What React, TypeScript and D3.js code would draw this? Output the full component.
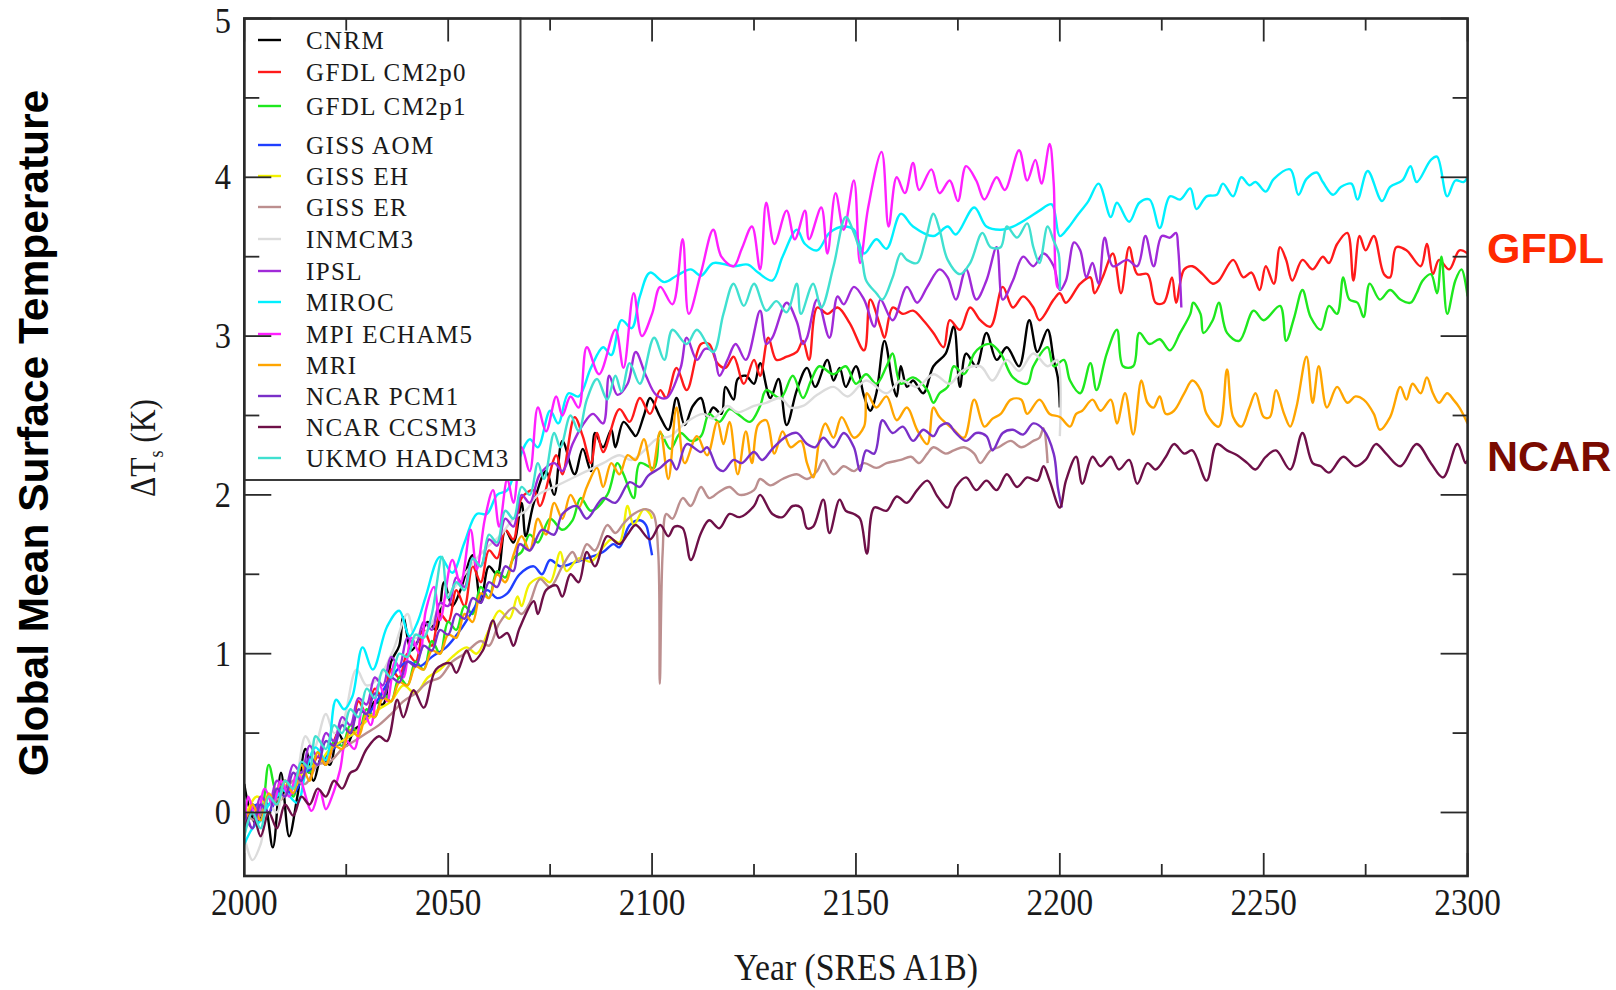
import React from "react";
import * as d3 from "d3";

type P = [number, number];

const CNRM: P[] = [[2000,0.18],[2001,0.05],[2003,-0.08],[2005,0.05],[2007,-0.22],[2009,0.25],[2011,-0.15],[2013,0.1],[2015,0.4],[2017,0.2],[2019,0.35],[2021,0.3],[2023,0.5],[2025,0.42],[2027,0.52],[2030,0.58],[2032,0.7],[2034,0.68],[2036,0.95],[2038,1.05],[2039,1.23],[2041,1.02],[2043,1.1],[2045,1.2],[2047,1.15],[2049,1.45],[2051,1.3],[2053,1.4],[2056,1.62],[2058,1.32],[2060,1.55],[2062,1.5],[2064,1.78],[2066,1.7],[2068,1.95],[2069,1.74],[2071,1.95],[2074,2.15],[2076,2.0],[2078,2.34],[2081,2.13],[2083,2.29],[2085,2.15],[2086,2.39],[2088,2.3],[2090,2.41],[2091,2.3],[2093,2.46],[2095,2.4],[2096,2.37],[2098,2.5],[2099.5,2.61],[2102,2.49],[2104,2.41],[2106,2.61],[2108,2.44],[2110,2.56],[2112,2.61],[2113.5,2.49],[2115,2.55],[2117,2.51],[2118,2.68],[2120,2.6],[2121,2.73],[2123,2.75],[2125,2.7],[2126.5,2.83],[2129,2.61],[2131,2.73],[2133,2.44],[2135.5,2.66],[2138,2.8],[2140,2.68],[2143,2.85],[2144.5,2.72],[2146,2.8],[2147.5,2.68],[2150,2.81],[2152,2.62],[2153.5,2.53],[2155,2.64],[2157,2.97],[2159,2.7],[2160,2.62],[2161,2.81],[2162.5,2.68],[2164,2.72],[2166.5,2.64],[2169,2.81],[2172,2.89],[2174,3.06],[2175.5,2.68],[2177,2.89],[2179.5,2.81],[2182,3.02],[2184.5,2.85],[2187,2.93],[2190,2.81],[2192.5,3.1],[2194.5,2.9],[2197,3.04],[2198.5,2.85],[2199.5,2.74],[2200,2.55]];

const GFDL_CM2P0: P[] = [[2000,-0.1],[2002,0.05],[2004,-0.05],[2006,0.1],[2008,0.05],[2010,0.2],[2012,0.15],[2014,0.3],[2016,0.25],[2018,0.35],[2020,0.3],[2022,0.45],[2024,0.55],[2026,0.5],[2028,0.7],[2030,0.62],[2032,0.78],[2034,0.72],[2036,0.9],[2038,0.85],[2040,1.0],[2042,0.95],[2044,1.15],[2046,1.05],[2048,1.25],[2050,1.2],[2052,1.4],[2054,1.3],[2056,1.55],[2058,1.45],[2060,1.65],[2062,1.6],[2064,1.78],[2066,1.72],[2068,1.98],[2071,2.03],[2072.5,1.93],[2076.5,2.25],[2078,2.13],[2081,2.49],[2083,2.37],[2085,2.2],[2086.5,2.39],[2088,2.27],[2092,2.54],[2094.5,2.46],[2097,2.61],[2099.5,2.51],[2102,2.66],[2103.5,2.61],[2106,2.8],[2108.5,2.66],[2112,2.95],[2114,2.95],[2116,2.83],[2118,2.8],[2120,2.87],[2122.5,2.7],[2125,2.85],[2126.5,2.75],[2128.5,2.99],[2130.5,2.85],[2133,2.87],[2135.5,2.9],[2137,2.97],[2138.5,2.85],[2140.5,3.18],[2143,3.14],[2145.5,3.18],[2148.5,3.08],[2152,2.91],[2153.5,3.23],[2156,3.06],[2157,2.99],[2159,3.18],[2161.5,3.14],[2164,3.16],[2166.5,3.1],[2169,3.02],[2171.5,2.93],[2173,3.1],[2175.5,3.04],[2178,3.18],[2180.5,3.1],[2183,3.06],[2186,3.31],[2188.5,3.18],[2191,3.25],[2193.5,3.18],[2195,3.1],[2198.5,3.23],[2200,3.27],[2201.5,3.21],[2205,3.33],[2207.5,3.37],[2208.5,3.27],[2210.5,3.37],[2213,3.52],[2215,3.27],[2217,3.56],[2219,3.39],[2221.5,3.39],[2223.5,3.21],[2225.5,3.21],[2227.5,3.37],[2228.5,3.21],[2230.5,3.42],[2232.5,3.44],[2235,3.39],[2237.5,3.33],[2239,3.35],[2242.5,3.48],[2245,3.37],[2247,3.4],[2249,3.29],[2250.5,3.44],[2252.5,3.33],[2254,3.56],[2255.5,3.48],[2257,3.35],[2259.5,3.48],[2262,3.42],[2264.5,3.5],[2266,3.46],[2268,3.58],[2270.5,3.65],[2272,3.35],[2273.5,3.63],[2275,3.54],[2277,3.63],[2279.5,3.39],[2281,3.37],[2282.5,3.56],[2285,3.54],[2288.5,3.44],[2290,3.58],[2291.5,3.39],[2293,3.48],[2295.5,3.42],[2298,3.54],[2300,3.52]];

const GFDL_CM2P1: P[] = [[2000,-0.05],[2002,0.05],[2004,0.0],[2006,0.3],[2008,0.12],[2010,0.2],[2012,0.1],[2014,0.3],[2016,0.25],[2018,0.38],[2020,0.3],[2022,0.45],[2024,0.42],[2026,0.55],[2028,0.5],[2030,0.65],[2032,0.6],[2034,0.75],[2036,0.7],[2038,0.85],[2040,0.8],[2042,0.95],[2044,0.9],[2046,1.08],[2048,1.0],[2050,1.2],[2052,1.15],[2054,1.3],[2056,1.25],[2058,1.42],[2060,1.35],[2062,1.52],[2064,1.48],[2066,1.6],[2068,1.64],[2070,1.75],[2072,1.7],[2075,1.85],[2078,1.78],[2080.5,1.84],[2082.5,1.98],[2085,1.9],[2089,2.0],[2091.5,2.2],[2093,2.13],[2095.5,1.98],[2097,2.2],[2100.5,2.17],[2102,2.39],[2104.5,2.29],[2107,2.39],[2109.5,2.34],[2112,2.37],[2114,2.51],[2116.5,2.46],[2119,2.54],[2121,2.51],[2124,2.46],[2126.5,2.56],[2128,2.66],[2131.5,2.61],[2134.5,2.75],[2137,2.61],[2139,2.72],[2141,2.81],[2144.5,2.76],[2147.5,2.81],[2150,2.7],[2152.5,2.76],[2155,2.7],[2157.5,2.81],[2159,2.89],[2161,2.7],[2164,2.74],[2167.5,2.66],[2169,2.58],[2170.5,2.64],[2172.5,2.68],[2174,2.81],[2176.5,2.76],[2179,2.89],[2180.5,2.93],[2183,2.95],[2185.5,2.89],[2188.5,2.74],[2192,2.7],[2193.5,2.81],[2197,2.93],[2198.5,2.81],[2201,2.85],[2202.5,2.72],[2205,2.64],[2207.5,2.83],[2209,2.66],[2211.5,2.89],[2214,3.04],[2215.5,2.81],[2218,2.81],[2219.5,3.02],[2222,2.95],[2224.5,2.98],[2227,2.91],[2229.5,3.02],[2232,3.14],[2232.7,3.21],[2234.5,3.14],[2235.2,3.02],[2237.5,3.1],[2239,3.21],[2241,3.02],[2244,2.97],[2247.5,3.16],[2250,3.1],[2254,3.19],[2255.5,2.97],[2257.5,3.12],[2259.5,3.29],[2261.5,3.12],[2264,3.04],[2266,3.19],[2268,3.14],[2269.5,3.37],[2271,3.23],[2273,3.21],[2274.5,3.12],[2276,3.33],[2278.5,3.23],[2281,3.29],[2283.5,3.23],[2286,3.21],[2287.5,3.27],[2289,3.35],[2291,3.39],[2292.5,3.27],[2293.6,3.5],[2295,3.14],[2297,3.35],[2298.5,3.42],[2300,3.25]];

const GISS_AOM: P[] = [[2000,-0.1],[2003,0.05],[2006,0.0],[2009,0.15],[2012,0.12],[2015,0.25],[2018,0.3],[2021,0.38],[2024,0.45],[2027,0.5],[2030,0.6],[2033,0.72],[2036,0.85],[2040,0.95],[2043,0.92],[2046,0.98],[2049.5,1.04],[2053,1.15],[2056,1.27],[2059.5,1.4],[2062,1.35],[2064.5,1.38],[2067.5,1.5],[2071,1.55],[2073,1.5],[2075,1.59],[2077.5,1.55],[2080.5,1.57],[2084,1.6],[2088,1.64],[2090.5,1.69],[2092,1.67],[2094.5,1.81],[2097,1.84],[2098.5,1.81],[2099.5,1.69],[2100,1.62]];

const GISS_EH: P[] = [[2000,-0.05],[2003,0.1],[2006,0.05],[2009,0.18],[2012,0.15],[2015,0.28],[2018,0.3],[2021,0.4],[2024,0.45],[2027,0.5],[2030,0.58],[2033,0.65],[2036,0.7],[2039,0.8],[2042,0.75],[2045,0.85],[2048,0.9],[2051,0.98],[2054.5,1.04],[2057,1.0],[2060,1.15],[2062.5,1.27],[2065,1.22],[2067,1.36],[2068,1.3],[2070,1.44],[2073,1.48],[2075,1.45],[2077.5,1.64],[2079,1.52],[2082,1.6],[2085,1.58],[2088,1.67],[2090,1.72],[2092,1.7],[2094,1.93],[2095.5,1.81],[2098,1.91],[2099.5,1.88],[2100,1.85]];

const GISS_ER: P[] = [[2000,0.0],[2003,-0.05],[2006,0.1],[2009,0.08],[2012,0.2],[2015,0.18],[2018,0.3],[2021,0.32],[2024,0.4],[2027,0.45],[2030,0.5],[2033,0.55],[2036,0.62],[2039,0.7],[2042,0.75],[2045,0.82],[2048,0.85],[2051,0.95],[2054,1.0],[2058,1.08],[2060,1.05],[2062.5,1.19],[2066,1.29],[2068,1.25],[2070,1.32],[2072.5,1.47],[2075,1.42],[2078,1.55],[2080.5,1.64],[2082,1.58],[2084,1.69],[2086,1.65],[2089,1.81],[2091,1.76],[2093,1.82],[2095.5,1.88],[2098.5,1.91],[2100.3,1.88],[2101.5,1.64],[2101.9,0.81],[2102.6,1.64],[2103.5,1.88],[2105,1.85],[2107.5,1.98],[2109.5,1.93],[2112,2.05],[2114,1.98],[2116.5,2.02],[2119,2.05],[2121.5,2.0],[2125,2.03],[2126.5,2.1],[2129,2.06],[2132,2.1],[2135.5,2.13],[2138,2.1],[2140.5,2.15],[2142,2.22],[2144.5,2.13],[2147,2.18],[2149.5,2.15],[2152,2.2],[2155,2.17],[2157.5,2.2],[2161,2.22],[2163.5,2.24],[2165.5,2.2],[2167.5,2.26],[2169,2.3],[2172,2.26],[2174,2.28],[2176.5,2.3],[2179,2.26],[2180.5,2.2],[2183,2.28],[2185,2.3],[2188,2.34],[2190.5,2.3],[2193.5,2.34],[2195,2.36],[2196,2.42],[2197,2.2]];

const INMCM3: P[] = [[2000,-0.15],[2002,-0.3],[2004,-0.2],[2006,0.05],[2008,0.0],[2010,0.2],[2012,0.15],[2015,0.48],[2017,0.4],[2020,0.62],[2022,0.5],[2024,0.55],[2027.5,0.9],[2030,0.8],[2033,0.85],[2036.5,1.02],[2040,1.25],[2042,1.1],[2045,1.15],[2048,1.3],[2051,1.4],[2054,1.5],[2057,1.6],[2060,1.68],[2063,1.75],[2066,1.85],[2069,1.9],[2072,2.0],[2076,2.05],[2080,2.1],[2084,2.15],[2088,2.2],[2092,2.25],[2095,2.22],[2098.5,2.29],[2101,2.35],[2104.5,2.37],[2108,2.45],[2112.5,2.51],[2115,2.48],[2118.5,2.56],[2121,2.52],[2125,2.56],[2128,2.58],[2131.5,2.61],[2134,2.55],[2137,2.56],[2140.5,2.63],[2144.5,2.68],[2148,2.62],[2152.5,2.72],[2157.5,2.64],[2161,2.72],[2165,2.68],[2169,2.76],[2173,2.7],[2176,2.78],[2180.5,2.81],[2183.5,2.72],[2187,2.85],[2190,2.78],[2193.5,2.89],[2197,2.81],[2199.3,2.85],[2200,2.37]];

const IPSL: P[] = [[2000,0.05],[2002,-0.1],[2004,0.1],[2006,0.05],[2008,0.2],[2010,0.15],[2012,0.3],[2014,0.25],[2016,0.42],[2018,0.35],[2020,0.5],[2022,0.45],[2024,0.6],[2026,0.55],[2028,0.72],[2030,0.68],[2032,0.85],[2034,0.8],[2036,0.98],[2038,0.92],[2040,1.1],[2042,1.05],[2044,1.2],[2046,1.15],[2048,1.32],[2050,1.3],[2052,1.48],[2054,1.42],[2056,1.6],[2058,1.55],[2060,1.72],[2062,1.68],[2064,1.85],[2066,1.8],[2068,2.0],[2070,1.95],[2072.5,2.13],[2076,2.2],[2078,2.15],[2080.5,2.32],[2083,2.44],[2085.5,2.51],[2088,2.45],[2089.5,2.75],[2091.5,2.63],[2094,2.7],[2096,2.9],[2098.5,2.75],[2101,2.63],[2103.5,2.61],[2107,2.8],[2108.5,2.99],[2111,2.85],[2113,2.92],[2115,2.9],[2116.5,2.75],[2118.5,2.85],[2120.5,2.95],[2123,2.85],[2126.5,3.16],[2128,2.95],[2129.5,2.99],[2133,3.21],[2135.5,3.09],[2137,2.95],[2138,2.99],[2140.5,3.23],[2143.5,2.99],[2145.5,3.25],[2147,3.2],[2149.5,3.31],[2152,3.23],[2154.5,3.06],[2156,3.23],[2159,3.1],[2162.5,3.31],[2165,3.21],[2167.5,3.31],[2170.5,3.42],[2172.5,3.37],[2174.5,3.23],[2177,3.42],[2179.5,3.23],[2182,3.35],[2184.5,3.56],[2186,3.23],[2188.5,3.35],[2191,3.5],[2193.5,3.44],[2196,3.52],[2198.5,3.44],[2200,3.29],[2201.5,3.35],[2203.5,3.59],[2205,3.54],[2206.5,3.37],[2208,3.46],[2209.5,3.33],[2211,3.62],[2213,3.44],[2216.5,3.48],[2219,3.44],[2221,3.63],[2223,3.44],[2225,3.63],[2227,3.62],[2228.5,3.65],[2229,3.56],[2229.8,3.18]];

const MIROC: P[] = [[2000,-0.2],[2002,-0.1],[2004,-0.05],[2006,0.05],[2008,0.1],[2009.5,0.14],[2013,0.06],[2015,0.25],[2017.5,0.41],[2020,0.33],[2022.5,0.71],[2024.5,0.65],[2026.5,0.73],[2029,1.04],[2031.5,0.9],[2035,1.17],[2038,1.27],[2040.5,1.11],[2042.5,1.2],[2044.5,1.36],[2048,1.61],[2051,1.51],[2054,1.7],[2057,1.88],[2059.5,1.88],[2062,2.0],[2064.5,2.03],[2067,2.2],[2070,2.35],[2072,2.3],[2075,2.53],[2077,2.45],[2079.5,2.64],[2082,2.62],[2085,2.8],[2088,2.93],[2090,2.88],[2092.5,3.1],[2095,3.05],[2097,3.25],[2099.5,3.4],[2103,3.34],[2106,3.38],[2109.5,3.42],[2112,3.38],[2115,3.46],[2120,3.44],[2123.5,3.45],[2126,3.4],[2129.5,3.35],[2132,3.5],[2135.5,3.67],[2137.5,3.58],[2140.5,3.54],[2143.5,3.65],[2147,3.69],[2149.5,3.67],[2152,3.52],[2155,3.61],[2157.5,3.55],[2161,3.77],[2164,3.69],[2169,3.63],[2172.5,3.69],[2174.5,3.64],[2179,3.81],[2182,3.69],[2185.5,3.67],[2188.5,3.69],[2192,3.74],[2195,3.79],[2198,3.83],[2200,3.63],[2202,3.68],[2204,3.75],[2207,3.85],[2209.5,3.96],[2212.5,3.75],[2214,3.84],[2217,3.72],[2219.5,3.84],[2222,3.86],[2224.5,3.68],[2227,3.88],[2229.5,3.86],[2232,3.93],[2233.5,3.8],[2236,3.88],[2238.5,3.89],[2240,3.96],[2242.5,3.88],[2244.5,4.0],[2246.5,3.95],[2248,3.97],[2250.5,3.91],[2252.5,3.99],[2256.5,4.05],[2258.5,3.89],[2260.5,3.99],[2263,4.03],[2264.5,3.97],[2267,3.89],[2269,3.94],[2271.5,3.96],[2273,3.86],[2275.5,4.04],[2279,3.85],[2281,3.94],[2284,3.98],[2286,4.07],[2287.5,3.97],[2291,4.11],[2292.5,4.13],[2295,3.88],[2297,3.98],[2299,3.97],[2300,4.0]];

const MPI_ECHAM5: P[] = [[2000,-0.1],[2001,0.1],[2003,-0.05],[2005,0.15],[2007,0.05],[2009,0.2],[2011,0.1],[2013,0.25],[2016.5,0.01],[2018.5,0.14],[2020,0.02],[2021.5,0.1],[2023.5,0.27],[2025,0.45],[2027,0.4],[2029,0.65],[2031,0.55],[2033,0.81],[2035,0.7],[2037,0.95],[2039,0.85],[2041,1.1],[2043,1.0],[2044.5,1.27],[2046.5,1.42],[2048,1.21],[2051,1.59],[2053,1.44],[2055.5,1.78],[2057,1.53],[2059,1.85],[2061,2.03],[2062.5,1.8],[2064.5,2.1],[2066,1.95],[2068,2.3],[2070,2.15],[2072,2.55],[2074,2.4],[2076.5,2.62],[2078,2.5],[2080,2.62],[2082,2.55],[2084,2.93],[2087,2.76],[2091,3.04],[2093,2.8],[2095.5,3.27],[2097.5,3.0],[2100,3.14],[2102,3.31],[2105,3.2],[2107.5,3.61],[2109,3.14],[2112,3.4],[2115,3.67],[2117,3.5],[2120,3.44],[2122,3.55],[2124.5,3.69],[2126.5,3.42],[2128,3.84],[2130,3.58],[2133,3.79],[2135,3.61],[2137.5,3.79],[2138.5,3.61],[2141.5,3.81],[2143,3.52],[2145,3.9],[2147,3.67],[2149.5,3.98],[2151,3.46],[2153,3.81],[2156.3,4.16],[2158,3.69],[2160,4.0],[2162,3.9],[2164,4.09],[2165.5,3.92],[2168.5,4.05],[2170.5,3.9],[2173,3.98],[2175,3.85],[2177,4.07],[2179.5,3.98],[2181.5,3.86],[2184.5,4.0],[2186.5,3.92],[2190,4.17],[2192,3.98],[2194,4.11],[2195.5,3.96],[2197.5,4.21],[2198.5,3.96],[2199.4,3.31],[2200,3.3]];

const MRI: P[] = [[2000,-0.15],[2002,0.05],[2004,-0.05],[2006,0.12],[2008,0.05],[2010,0.2],[2012,0.12],[2014,0.3],[2016,0.2],[2018,0.38],[2020,0.3],[2022,0.42],[2024,0.4],[2026,0.52],[2028,0.48],[2030,0.62],[2032,0.6],[2034,0.72],[2036,0.7],[2038,0.82],[2040,0.8],[2042,0.92],[2044,0.9],[2046,1.02],[2048,1.0],[2050,1.12],[2052,1.1],[2054,1.25],[2056,1.2],[2058,1.38],[2060,1.35],[2062,1.5],[2064,1.45],[2066,1.62],[2068,1.74],[2070,1.65],[2072,1.85],[2074,1.75],[2076,1.95],[2078,1.85],[2080,2.0],[2082,1.92],[2084,2.05],[2086.5,2.17],[2088,2.05],[2090,2.2],[2092,2.13],[2094,2.25],[2096,2.22],[2098,2.35],[2100,2.15],[2102,2.4],[2104,2.1],[2106,2.55],[2108,2.2],[2111,2.37],[2113.5,2.25],[2116,2.46],[2117.5,2.32],[2119,2.46],[2121,2.13],[2123,2.4],[2124.5,2.2],[2126,2.44],[2128,2.47],[2130,2.26],[2132,2.4],[2134,2.3],[2136.5,2.34],[2138,2.2],[2139.5,2.11],[2141,2.34],[2142.5,2.45],[2144.5,2.36],[2146.5,2.49],[2149.5,2.36],[2152,2.43],[2152.7,2.64],[2155,2.55],[2157.5,2.62],[2160,2.47],[2162.5,2.55],[2165,2.41],[2167.5,2.32],[2169,2.55],[2170.5,2.49],[2174,2.41],[2176.5,2.36],[2179,2.6],[2181.5,2.43],[2183.5,2.48],[2185.5,2.51],[2188,2.6],[2190.5,2.6],[2192,2.51],[2195,2.6],[2197.5,2.51],[2200,2.49],[2202.5,2.43],[2204,2.51],[2205.5,2.53],[2208,2.6],[2210,2.53],[2212.5,2.6],[2214,2.45],[2216,2.64],[2218,2.38],[2220,2.72],[2221.5,2.58],[2223,2.55],[2224.5,2.62],[2226,2.51],[2228,2.53],[2230.5,2.64],[2232.5,2.72],[2234.5,2.66],[2236,2.51],[2239,2.43],[2241,2.79],[2242.5,2.49],[2244.5,2.43],[2246.5,2.55],[2248,2.64],[2250,2.49],[2251.5,2.49],[2253,2.66],[2255,2.51],[2256.5,2.43],[2258,2.55],[2260.5,2.87],[2262,2.58],[2263.5,2.81],[2265.5,2.55],[2268,2.68],[2270.5,2.58],[2272.5,2.62],[2274.5,2.6],[2277,2.51],[2278.5,2.41],[2281,2.49],[2283.5,2.68],[2285,2.6],[2286.5,2.7],[2288.5,2.64],[2290,2.74],[2291.5,2.64],[2293,2.58],[2295,2.64],[2296.5,2.6],[2298,2.55],[2300,2.45]];

const NCAR_PCM1: P[] = [[2000,0.0],[2002,-0.1],[2004,0.05],[2006,0.0],[2008,0.15],[2010,0.1],[2012,0.25],[2014,0.2],[2016,0.35],[2018,0.3],[2020,0.45],[2022,0.42],[2024,0.55],[2026,0.5],[2028,0.65],[2030,0.62],[2032,0.75],[2034,0.72],[2036,0.85],[2038,0.82],[2040,0.95],[2042,0.92],[2044,1.05],[2046,1.02],[2048,1.15],[2050,1.12],[2052,1.25],[2054,1.22],[2056,1.35],[2058,1.32],[2060,1.45],[2062,1.42],[2064,1.55],[2066,1.52],[2067.5,1.69],[2070,1.65],[2073,1.78],[2076,1.75],[2078,1.88],[2081.5,1.93],[2084,1.85],[2088,1.98],[2091,1.95],[2094.5,2.08],[2097,2.05],[2099,2.12],[2102,2.17],[2104.5,2.22],[2106,2.16],[2108.5,2.32],[2112,2.27],[2113.5,2.3],[2116,2.17],[2117.5,2.15],[2120,2.22],[2122,2.2],[2125,2.27],[2127,2.22],[2129.5,2.29],[2133,2.37],[2135.5,2.39],[2138,2.32],[2140,2.3],[2142,2.36],[2144.5,2.3],[2147,2.39],[2149.5,2.3],[2151,2.15],[2152.5,2.28],[2154.5,2.26],[2156.5,2.47],[2159,2.39],[2161.5,2.43],[2164,2.34],[2166.5,2.41],[2169,2.37],[2170.5,2.43],[2172.5,2.45],[2174.5,2.39],[2177,2.34],[2179.5,2.39],[2182,2.37],[2183.5,2.28],[2186,2.39],[2188.5,2.41],[2191,2.38],[2193.5,2.45],[2196,2.41],[2198.5,2.26],[2199.5,2.05],[2200.5,1.92]];

const NCAR_CCSM3: P[] = [[2000,-0.1],[2002,0.0],[2004,-0.15],[2006,0.0],[2008,-0.1],[2010,0.05],[2012,-0.02],[2014,0.1],[2016,0.05],[2018,0.15],[2020,0.1],[2022,0.2],[2024,0.15],[2026,0.25],[2027.5,0.27],[2030,0.4],[2033,0.48],[2035,0.45],[2037.5,0.71],[2039,0.6],[2041.5,0.77],[2044,0.66],[2047,0.9],[2050.5,0.94],[2052,0.88],[2054.5,1.02],[2056,0.95],[2058.5,1.02],[2061,1.21],[2062.5,1.1],[2064.5,1.13],[2066,1.05],[2067.5,1.16],[2071,1.33],[2072,1.25],[2074,1.4],[2076.5,1.43],[2078,1.36],[2080,1.5],[2082,1.45],[2084,1.64],[2086,1.55],[2089,1.74],[2092,1.69],[2094,1.75],[2096,1.81],[2099.5,1.72],[2102,1.81],[2104,1.74],[2105.5,1.8],[2107.5,1.79],[2109.5,1.59],[2112,1.76],[2114,1.84],[2116.5,1.79],[2119,1.88],[2121.5,1.86],[2125,1.93],[2126.5,2.0],[2129.5,1.88],[2132,1.86],[2134.5,1.93],[2136.5,1.92],[2138,1.79],[2139.5,1.8],[2142,1.97],[2143.5,1.76],[2146,1.97],[2147.5,1.9],[2149.5,1.88],[2151,1.85],[2152.7,1.63],[2154.5,1.92],[2157.5,1.9],[2160,1.99],[2162.5,1.95],[2165,2.03],[2167.5,2.09],[2170,1.99],[2172.5,1.92],[2174.5,2.05],[2177,2.11],[2179.5,2.03],[2182,2.09],[2184.5,2.03],[2187,2.13],[2189.5,2.05],[2192,2.11],[2194.5,2.09],[2196,2.18],[2197.5,2.09],[2200,1.92],[2201.5,2.09],[2204,2.24],[2205.5,2.07],[2208,2.24],[2210,2.18],[2212.5,2.24],[2214.5,2.16],[2217,2.22],[2219,2.07],[2221.5,2.2],[2223.5,2.16],[2226,2.24],[2228,2.32],[2230.5,2.26],[2232.5,2.28],[2236,2.09],[2238.5,2.32],[2241,2.28],[2243.5,2.25],[2246,2.2],[2248,2.16],[2250.5,2.24],[2253,2.28],[2256.5,2.16],[2259.5,2.39],[2262,2.2],[2264,2.18],[2266,2.14],[2269.5,2.24],[2272.5,2.18],[2275,2.22],[2277.5,2.32],[2280,2.26],[2283.5,2.18],[2287.5,2.32],[2291,2.2],[2294,2.11],[2297.5,2.32],[2299.5,2.2],[2300,2.22]];

const UKMO_HADCM3: P[] = [[2000,-0.15],[2002,0.0],[2004,-0.1],[2006,0.1],[2008,0.05],[2010,0.2],[2012,0.15],[2014,0.32],[2016,0.28],[2017.5,0.48],[2020,0.4],[2022,0.55],[2024,0.5],[2026,0.65],[2028,0.6],[2030,0.78],[2032,0.72],[2034,0.9],[2036,0.85],[2038,1.0],[2040,0.98],[2042,1.12],[2044,1.1],[2046,1.25],[2048.5,1.61],[2050,1.35],[2052,1.45],[2054,1.4],[2056,1.6],[2058,1.55],[2060,1.75],[2062,1.7],[2064,1.9],[2066,1.85],[2068,2.05],[2070,2.0],[2072,2.2],[2073.5,2.1],[2076,2.39],[2077.5,2.3],[2080,2.5],[2082,2.4],[2084,2.6],[2086.5,2.73],[2089,2.6],[2091,2.75],[2092.5,2.65],[2094.5,2.83],[2097,2.7],[2100.5,2.99],[2103,2.85],[2105,3.04],[2108.5,2.95],[2111,3.04],[2115,2.9],[2117.5,3.14],[2120,3.33],[2122.5,3.19],[2125,3.33],[2128,3.16],[2130.5,3.22],[2133,3.15],[2135.5,3.33],[2136.5,3.14],[2139.5,3.33],[2141.5,3.18],[2144.5,3.44],[2147.5,3.75],[2149.5,3.65],[2151.5,3.48],[2152.5,3.35],[2155,3.27],[2156.5,3.23],[2159,3.37],[2161,3.52],[2162.5,3.48],[2165,3.46],[2167,3.6],[2169,3.77],[2170.5,3.67],[2172.5,3.48],[2175.5,3.39],[2178,3.46],[2181,3.65],[2183,3.56],[2185.5,3.56],[2187,3.69],[2189.5,3.62],[2192,3.71],[2193.5,3.56],[2195,3.46],[2197,3.69],[2198.5,3.6],[2199.7,3.52],[2200,3.29]];

const MODEL_NAMES = ["CNRM","GFDL CM2p0","GFDL CM2p1","GISS AOM","GISS EH","GISS ER","INMCM3","IPSL","MIROC","MPI ECHAM5","MRI","NCAR PCM1","NCAR CCSM3","UKMO HADCM3"];
const MODEL_DATA: P[][] = [CNRM, GFDL_CM2P0, GFDL_CM2P1, GISS_AOM, GISS_EH, GISS_ER, INMCM3, IPSL, MIROC, MPI_ECHAM5, MRI, NCAR_PCM1, NCAR_CCSM3, UKMO_HADCM3];
const MODEL_COLORS = ["#000000","#ff1a1a","#1ee81e","#1f3fff","#f2f200","#bc8f8f","#dcdcdc","#a02ad8","#00f0ff","#ff20ff","#ffa500","#7a2fc8","#6e1048","#40e0d0"];

const X_TICKS = [2000, 2050, 2100, 2150, 2200, 2250, 2300];
const Y_TICKS = [0, 1, 2, 3, 4, 5];

const W = 1616, H = 990;
const L = 244.3, R = 1467.6, T = 18.5, B = 876;
// legend row centres (layout)
const LEGEND_ROWS = [40, 72, 106, 145, 176, 207, 239, 271, 302, 334, 365, 396, 427, 458];

export default function App() {
  const x = d3.scaleLinear().domain([2000, 2300]).range([L, R]);
  const y = d3.scaleLinear().domain([-0.4, 5]).range([B, T]);
  const line = d3.line<P>().x(d => x(d[0])).y(d => y(d[1])).curve(d3.curveCatmullRom.alpha(0.5));

  const xMinor = d3.range(2025, 2300, 50);
  const yMinor = d3.range(0.5, 5, 1);
  const axisColor = "#2a2a2a";
  const serif = "'Liberation Serif', 'Times New Roman', serif";

  return (
    <svg width={W} height={H} style={{ position: "absolute", left: 0, top: 0, background: "#fff" }}>
      <defs>
        <clipPath id="plotclip"><rect x={L} y={T} width={R - L} height={B - T} /></clipPath>
      </defs>
      <rect x={0} y={0} width={W} height={H} fill="#fff" />
      <g clipPath="url(#plotclip)">
        {MODEL_DATA.map((d, i) => (
          <path key={i} d={line(d) || ""} fill="none" stroke={MODEL_COLORS[i]} strokeWidth={2.4} strokeLinejoin="round" />
        ))}
      </g>

      {/* legend */}
      <rect x={L} y={T} width={520.5 - L} height={480 - T} fill="#fff" stroke="#3a3a3a" strokeWidth={2} />
      {MODEL_NAMES.map((n, i) => {
        const cy = LEGEND_ROWS[i];
        return (
          <g key={n}>
            <line x1={258} x2={281} y1={cy} y2={cy} stroke={MODEL_COLORS[i]} strokeWidth={2.4} />
            <text x={306} y={cy + 8.5} fontFamily={serif} fontSize={25} letterSpacing={1.4} fill="#1a1a1a">{n}</text>
          </g>
        );
      })}

      {/* frame */}
      <rect x={L} y={T} width={R - L} height={B - T} fill="none" stroke={axisColor} strokeWidth={2.6} />

      {/* x ticks */}
      {X_TICKS.map(t => (
        <g key={"xt" + t}>
          <line x1={x(t)} x2={x(t)} y1={B} y2={B - 23} stroke={axisColor} strokeWidth={1.8} />
          <line x1={x(t)} x2={x(t)} y1={T} y2={T + 23} stroke={axisColor} strokeWidth={1.8} />
          <text transform={`translate(${x(t)},915) scale(0.9,1)`} textAnchor="middle" fontFamily={serif} fontSize={37} fill="#1a1a1a">{t}</text>
        </g>
      ))}
      {xMinor.map(t => (
        <g key={"xm" + t}>
          <line x1={x(t)} x2={x(t)} y1={B} y2={B - 12} stroke={axisColor} strokeWidth={1.8} />
          <line x1={x(t)} x2={x(t)} y1={T} y2={T + 12} stroke={axisColor} strokeWidth={1.8} />
        </g>
      ))}

      {/* y ticks */}
      {Y_TICKS.map(t => (
        <g key={"yt" + t}>
          <line x1={L} x2={L + 27} y1={y(t)} y2={y(t)} stroke={axisColor} strokeWidth={1.8} />
          <line x1={R} x2={R - 27} y1={y(t)} y2={y(t)} stroke={axisColor} strokeWidth={1.8} />
          <text transform={`translate(231,${Math.max(y(t) + 12, 33)}) scale(0.9,1)`} textAnchor="end" fontFamily={serif} fontSize={36} fill="#1a1a1a">{t}</text>
        </g>
      ))}
      {yMinor.map(t => (
        <g key={"ym" + t}>
          <line x1={L} x2={L + 15} y1={y(t)} y2={y(t)} stroke={axisColor} strokeWidth={1.8} />
          <line x1={R} x2={R - 15} y1={y(t)} y2={y(t)} stroke={axisColor} strokeWidth={1.8} />
        </g>
      ))}

      {/* axis titles */}
      <text transform={`translate(${(L + R) / 2},980) scale(0.9,1)`} textAnchor="middle" fontFamily={serif} fontSize={37.5} fill="#1a1a1a">Year (SRES A1B)</text>
      <text transform={`translate(155,448) rotate(-90) scale(0.9,1)`} textAnchor="middle" fontFamily={serif} fontSize={35} fill="#1a1a1a">
        ΔT<tspan fontSize={20} dy={8}>s</tspan><tspan dy={-8}> (K)</tspan>
      </text>
      <text transform={`translate(48,433) rotate(-90)`} textAnchor="middle" fontFamily="'Liberation Sans', Arial, sans-serif" fontWeight="bold" fontSize={42.5} fill="#000">Global Mean Surface Temperature</text>

      <text x={1487} y={263} fontFamily="'Liberation Sans', Arial, sans-serif" fontWeight="bold" fontSize={43} fill="#ff2a00">GFDL</text>
      <text x={1487} y={471} fontFamily="'Liberation Sans', Arial, sans-serif" fontWeight="bold" fontSize={43} fill="#7a0a00">NCAR</text>
    </svg>
  );
}
